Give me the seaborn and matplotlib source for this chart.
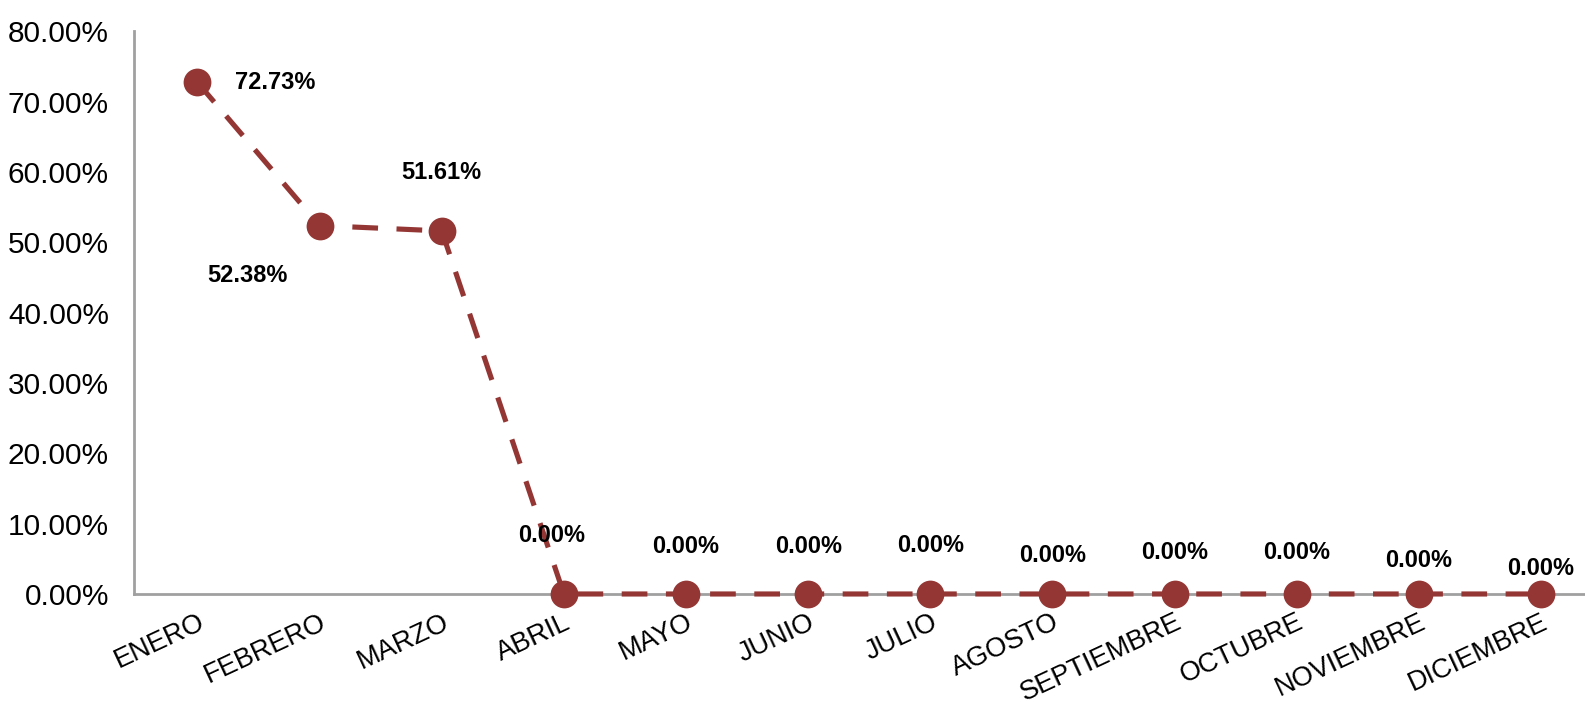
import matplotlib
matplotlib.use("Agg")
import matplotlib.pyplot as plt
import seaborn as sns
import pandas as pd

months = ["ENERO", "FEBRERO", "MARZO", "ABRIL", "MAYO", "JUNIO", "JULIO",
          "AGOSTO", "SEPTIEMBRE", "OCTUBRE", "NOVIEMBRE", "DICIEMBRE"]
values = [72.73, 52.38, 51.61, 0.0, 0.0, 0.0, 0.0, 0.0, 0.0, 0.0, 0.0, 0.0]
y_ticks = [0, 10, 20, 30, 40, 50, 60, 70, 80]

# label offsets in points (dx, dy)
label_offsets = [(56, 0), (-52, -36), (0, 42), (-9, 42), (0, 34), (0, 34),
                 (0, 35), (0, 28), (0, 30), (0, 30), (0, 24), (0, 18)]

sns.set_theme(style="white")
plt.rcParams['font.family'] = ['Liberation Sans', 'DejaVu Sans']

color = "#943634"
df = pd.DataFrame({"x": range(len(months)), "y": values})

fig = plt.figure(figsize=(15.85, 7.1), dpi=100)
ax = fig.add_axes([0.0845, 0.1634, 0.9155, 0.7926])

sns.lineplot(data=df, x="x", y="y", ax=ax, color=color, linewidth=3.7,
             linestyle=(0, (5.0, 3.6)), marker="o", markersize=20,
             markeredgewidth=0, markerfacecolor=color, zorder=3, clip_on=False)

for i, (v, (dx, dy)) in enumerate(zip(values, label_offsets)):
    ax.annotate(f"{v:.2f}%", (i, v), xytext=(dx, dy), textcoords="offset points",
                ha="center", va="center", fontsize=17, fontweight="bold",
                color="black")

ax.set_xlim(-0.52, 11.36)
ax.set_ylim(0, 80)
ax.set_yticks(y_ticks)
ax.set_yticklabels([f"{t:.2f}%" for t in y_ticks], fontsize=21.5)
ax.set_xticks(range(len(months)))
ax.set_xticklabels(months, fontsize=19.5, rotation=25, ha="right",
                   rotation_mode="anchor")
ax.tick_params(axis="both", length=0, colors="black")
ax.tick_params(axis="y", pad=18)
ax.tick_params(axis="x", pad=11)
ax.set_xlabel("")
ax.set_ylabel("")
for s in ["top", "right"]:
    ax.spines[s].set_visible(False)
for s in ["left", "bottom"]:
    ax.spines[s].set_color("#a0a0a0")
    ax.spines[s].set_linewidth(2)
ax.grid(False)

fig.savefig("out.png", dpi=100)
